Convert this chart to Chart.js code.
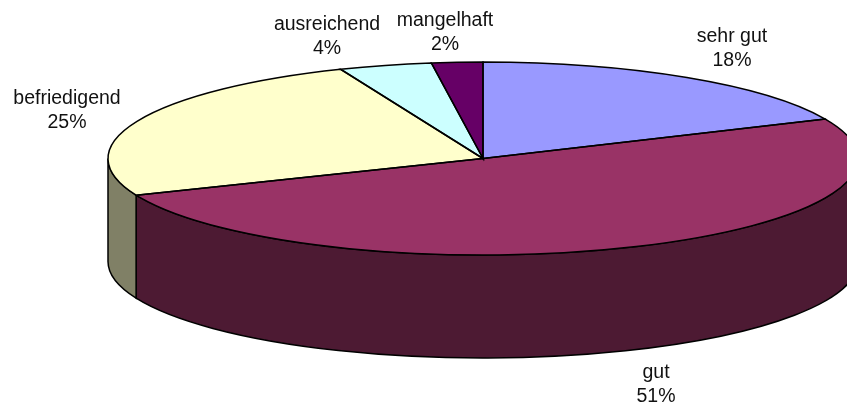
<!DOCTYPE html>
<html>
<head>
<meta charset="utf-8">
<style>
  html, body { margin: 0; padding: 0; background: #fff; }
  canvas { display: block; }
</style>
<script src="https://cdn.jsdelivr.net/npm/chart.js@4"></script>
</head>
<body>
<canvas id="pie" width="847" height="405"></canvas>
<script>
// Data
const categories = ['sehr gut', 'gut', 'befriedigend', 'ausreichend', 'mangelhaft'];
const shares = [18.3, 50.5, 25.0, 4.0, 2.2];
const shareLabels = ['18%', '51%', '25%', '4%', '2%'];

// Colours
const topColors = ['#9999FF', '#993366', '#FFFFCC', '#CCFFFF', '#660066'];
const wallColors = ['#4D4D80', '#4D1A33', '#808066', '#668080', '#330033'];

// 3D look: the flat pie is squashed by TILT and extruded by DEPTH
const TILT = 0.2573;
const DEPTH = 103;
const RADIUS = 375;

// Label anchors (centre x, first baseline y)
const labelX = [732, 656, 67, 327, 445];
const labelY = [41.5, 378, 104, 30, 26];
const LINE_HEIGHT = 24;

const pie3d = {
  id: 'pie3d',
  beforeDatasetsDraw(chart) {
    const ctx = chart.ctx;
    const arcs = chart.getDatasetMeta(0).data;

    // side walls: only the part of each slice on the front half of the rim
    arcs.forEach((arc, i) => {
      const { x, y, startAngle, endAngle, outerRadius } = arc.getProps(['x', 'y', 'startAngle', 'endAngle', 'outerRadius']);
      const a = Math.max(startAngle, 0);
      const b = Math.min(endAngle, Math.PI);
      if (b <= a) return;
      const ry = outerRadius * TILT;
      ctx.beginPath();
      ctx.ellipse(x, y, outerRadius, ry, 0, a, b);
      ctx.ellipse(x, y + DEPTH, outerRadius, ry, 0, b, a, true);
      ctx.closePath();
      ctx.fillStyle = wallColors[i];
      ctx.fill();
      ctx.lineWidth = 1.5;
      ctx.strokeStyle = '#000';
      ctx.stroke();
    });

    // the library's arcs get drawn squashed
    const cy = arcs[0].y;
    ctx.save();
    ctx.translate(0, cy);
    ctx.scale(1, TILT);
    ctx.translate(0, -cy);
  },
  afterDatasetsDraw(chart) {
    const ctx = chart.ctx;
    ctx.restore();

    const arcs = chart.getDatasetMeta(0).data;
    arcs.forEach((arc) => {
      const { x, y, startAngle, endAngle, outerRadius } = arc.getProps(['x', 'y', 'startAngle', 'endAngle', 'outerRadius']);
      ctx.beginPath();
      ctx.moveTo(x, y);
      ctx.ellipse(x, y, outerRadius, outerRadius * TILT, 0, startAngle, endAngle);
      ctx.closePath();
      ctx.lineWidth = 1.5;
      ctx.strokeStyle = '#000';
      ctx.stroke();
    });

    ctx.save();
    ctx.font = '19.5px "Liberation Sans", Arial, sans-serif';
    ctx.fillStyle = '#111';
    ctx.textAlign = 'center';
    ctx.textBaseline = 'alphabetic';
    categories.forEach((name, i) => {
      ctx.fillText(name, labelX[i], labelY[i]);
      ctx.fillText(shareLabels[i], labelX[i], labelY[i] + LINE_HEIGHT);
    });
    ctx.restore();
  }
};

new Chart(document.getElementById('pie'), {
  type: 'pie',
  data: {
    labels: categories,
    datasets: [{
      data: shares,
      backgroundColor: topColors,
      borderWidth: 0,
      radius: RADIUS,
      clip: false
    }]
  },
  plugins: [pie3d],
  options: {
    responsive: false,
    animation: false,
    // pushes the pie centre up and to the right of the canvas centre
    layout: { padding: { left: 119, bottom: 88 } },
    plugins: {
      legend: { display: false },
      tooltip: { enabled: false }
    }
  }
});
</script>
</body>
</html>
